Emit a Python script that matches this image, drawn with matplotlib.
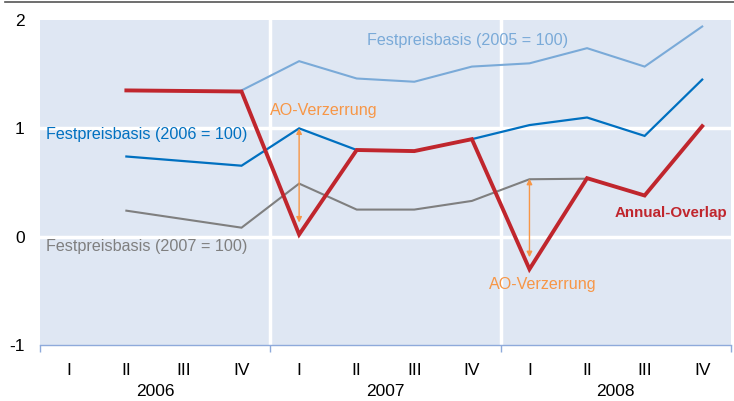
import numpy as np
import matplotlib
matplotlib.use('Agg')
import matplotlib.pyplot as plt
import matplotlib.transforms as mtransforms
from matplotlib.lines import Line2D

plt.rcParams['font.family'] = ['Liberation Sans', 'DejaVu Sans']

# ── Data ──────────────────────────────────────────────────────
quarters = ['I', 'II', 'III', 'IV'] * 3
years = ['2006', '2007', '2008']
nan = np.nan

basis_2005 = [nan, nan, nan, 1.35, 1.62, 1.46, 1.43, 1.57, 1.60, 1.74, 1.57, 1.94]
basis_2006 = [nan, 0.74, nan, 0.655, 1.00, 0.80, 0.79, 0.90, 1.03, 1.10, 0.93, 1.45]
basis_2007 = [nan, 0.24, nan, 0.083, 0.49, 0.25, 0.25, 0.33, 0.53, 0.535, nan, nan]
annual_overlap = [nan, 1.35, nan, 1.34, 0.02, 0.80, 0.79, 0.90, -0.30, 0.54, 0.38, 1.02]

# AO distortion arrows: (quarter index, from, to)
ao_arrows = [(4, 1.00, 0.13), (8, 0.535, -0.19)]

C_2005 = '#7aaad8'
C_2006 = '#0070c0'
C_2007 = '#7f7f7f'
C_AO = '#c0262d'
C_ARROW = '#f79646'
BG = '#dfe7f3'

# ── Canvas ────────────────────────────────────────────────────
fig = plt.figure(figsize=(7.34, 4.01), dpi=100)
ax = fig.add_axes([40/734, 1-345/401, 691/734, 325/401])
ax.set_facecolor(BG)

x = np.arange(len(quarters))


def draw(vals, color, lw, z):
    v = np.array(vals, dtype=float)
    m = ~np.isnan(v)
    ax.plot(x[m], v[m], color=color, lw=lw, zorder=z, solid_joinstyle='miter')


draw(basis_2005, C_2005, 1.5, 3)
draw(basis_2007, C_2007, 1.5, 3)
draw(basis_2006, C_2006, 1.6, 4)
draw(annual_overlap, C_AO, 2.8, 5)

for qi, y0, y1 in ao_arrows:
    ax.annotate('', xy=(qi, y1), xytext=(qi, y0),
                arrowprops=dict(arrowstyle='<|-|>', color=C_ARROW, lw=1,
                                mutation_scale=8, shrinkA=0, shrinkB=0),
                zorder=6)

# white gridlines
for yv in [0, 1]:
    ax.axhline(yv, color='white', lw=2.5, zorder=1)
for xv in [3.5, 7.5]:
    ax.axvline(xv, color='white', lw=2.5, zorder=1)

# labels
FS = 11.6
ax.text(6.92, 1.81, 'Festpreisbasis (2005 = 100)', color=C_2005, fontsize=FS,
        ha='center', va='center', zorder=7)
ax.text(-0.40, 0.94, 'Festpreisbasis (2006 = 100)', color=C_2006, fontsize=FS,
        ha='left', va='center', zorder=7)
ax.text(-0.40, -0.09, 'Festpreisbasis (2007 = 100)', color=C_2007, fontsize=FS,
        ha='left', va='center', zorder=7)
ax.text(3.49, 1.16, 'AO-Verzerrung', color=C_ARROW, fontsize=FS,
        ha='left', va='center', zorder=7)
ax.text(7.30, -0.44, 'AO-Verzerrung', color=C_ARROW, fontsize=FS,
        ha='left', va='center', zorder=7)
ax.text(9.48, 0.22, 'Annual-Overlap', color=C_AO, fontsize=10.9,
        fontweight='bold', ha='left', va='center', zorder=7)

# axes
ax.set_xlim(-0.5, 11.5)
ax.set_ylim(-1, 2)
ax.set_yticks([-1, 0, 1, 2])
ax.set_yticklabels(['-1', '0', '1', '2'])
ax.set_xticks(x)
ax.set_xticklabels(quarters)
ax.set_xticks([-0.5, 3.5, 7.5, 11.5], minor=True)
ax.tick_params(axis='x', which='major', length=0, pad=13, labelsize=12.5)
ax.tick_params(axis='x', which='minor', length=5, color='#8eaadb', width=1)
ax.tick_params(axis='y', length=0, pad=11, labelsize=12.5)
for s in ['top', 'right', 'left']:
    ax.spines[s].set_visible(False)
ax.spines['bottom'].set_color('#8eaadb')
ax.spines['bottom'].set_linewidth(1)

trans = mtransforms.blended_transform_factory(ax.transData, fig.transFigure)
for i, yr in enumerate(years):
    ax.text(4*i + 1.5, 1 - 392/401, yr, transform=trans, ha='center',
            va='center', fontsize=12.5)

# top rule
fig.add_artist(Line2D([5/734, 1], [1 - 1.5/401, 1 - 1.5/401],
                      color='#555555', lw=1.2, transform=fig.transFigure))

plt.savefig('out.png', dpi=100, facecolor='white')
